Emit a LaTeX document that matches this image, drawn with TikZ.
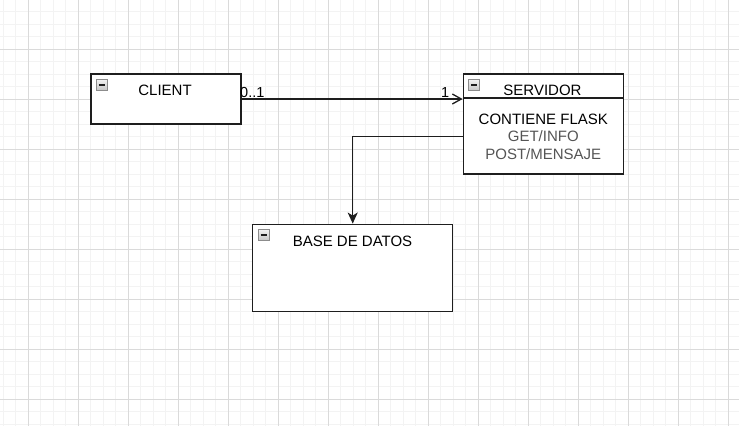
\documentclass[tikz,border=0pt]{standalone}
\usepackage{fontspec}
\setmainfont{Liberation Sans}
\usepackage{tikz}
\usetikzlibrary{arrows.meta,positioning,calc}
\usepackage{xcolor}
\definecolor{gridminor}{RGB}{243,243,243}
\definecolor{gridmajor}{RGB}{218,218,218}
\definecolor{linedark}{RGB}{30,30,30}
\definecolor{textgray}{RGB}{85,85,85}
\definecolor{iconedge}{RGB}{140,140,140}
\tikzstyle{umlbox} = [rectangle, draw=linedark, line width=1.3pt, fill=white, inner sep=0pt]
\tikzstyle{boxtitle} = [font=\fontsize{15}{18}\selectfont, inner sep=0pt, anchor=base]
\tikzstyle{edgelabel} = [font=\fontsize{14.5}{17}\selectfont, inner sep=0pt]
\tikzstyle{minusicon} = [rectangle, draw=iconedge, line width=0.9pt, top color=gray!10, bottom color=gray!45,
    minimum size=11pt, inner sep=0pt, anchor=north west,
    path picture={\draw[linedark, line width=1.8pt] ([xshift=2.5pt]path picture bounding box.west) -- ([xshift=-2.5pt]path picture bounding box.east);}]
\tikzstyle{assoc} = [line width=1.3pt, color=linedark, -{Straight Barb[length=9pt,width=10pt]}]
\tikzstyle{flow} = [line width=1.3pt, color=linedark, -{Stealth[length=11pt,width=10pt,inset=3pt]}]

\begin{document}
\begin{tikzpicture}[x=1pt,y=-1pt]
\useasboundingbox (0,0) rectangle (739,426);
% Background grid
\foreach \i in {0,...,58} {
    \draw[gridminor, line width=1pt] ({3.3+12.5*\i},0) -- ({3.3+12.5*\i},426);
}
\foreach \j in {0,...,33} {
    \draw[gridminor, line width=1pt] (0,{11.7+12.5*\j}) -- (739,{11.7+12.5*\j});
}
\foreach \i in {0,...,14} {
    \draw[gridmajor, line width=1pt] ({28+50*\i},0) -- ({28+50*\i},426);
}
\foreach \j in {0,...,7} {
    \draw[gridmajor, line width=1pt] (0,{49.2+50*\j}) -- (739,{49.2+50*\j});
}

% Boxes
\node[umlbox, minimum width=150pt, minimum height=50pt] (client) at (166,99) {};
\node[umlbox, minimum width=160pt, minimum height=100pt] (servidor) at (543.3,124) {};
\node[umlbox, minimum width=200pt, minimum height=87pt] (base) at (352.7,267.7) {};
\draw[linedark, line width=1.3pt] ($(servidor.north west)+(0,24.5)$) -- ($(servidor.north east)+(0,24.5)$);

% Collapse icons
\node[minusicon] (clienticon) at ($(client.north west)+(5.5,5.5)$) {};
\node[minusicon] (servidoricon) at ($(servidor.north west)+(5.5,6)$) {};
\node[minusicon] (baseicon) at ($(base.north west)+(5.5,5.5)$) {};

% Titles and body
\node[boxtitle] (clienttitle) at (165,95.7) {CLIENT};
\node[boxtitle] (servidortitle) at (542.5,95.7) {SERVIDOR};
\node[boxtitle] (flask) at (543.3,124) {CONTIENE FLASK};
\node[boxtitle, textgray] (getinfo) at (543.3,141.7) {GET/INFO};
\node[boxtitle, textgray] (postmsg) at (543.3,159.7) {POST/MENSAJE};
\node[boxtitle] (basetitle) at (352.5,246) {BASE DE DATOS};

% Connections
\draw[assoc] (client.east) -- (client.east -| servidor.west);
\node[edgelabel, anchor=base west] (multclient) at (240,97.3) {0..1};
\node[edgelabel, anchor=base east] (multservidor) at (449.5,97.3) {1};
\coordinate (servout) at ($(servidor.west)+(0,12.7)$);
\draw[flow] (servout) -| (base.north);
\end{tikzpicture}
\end{document}
